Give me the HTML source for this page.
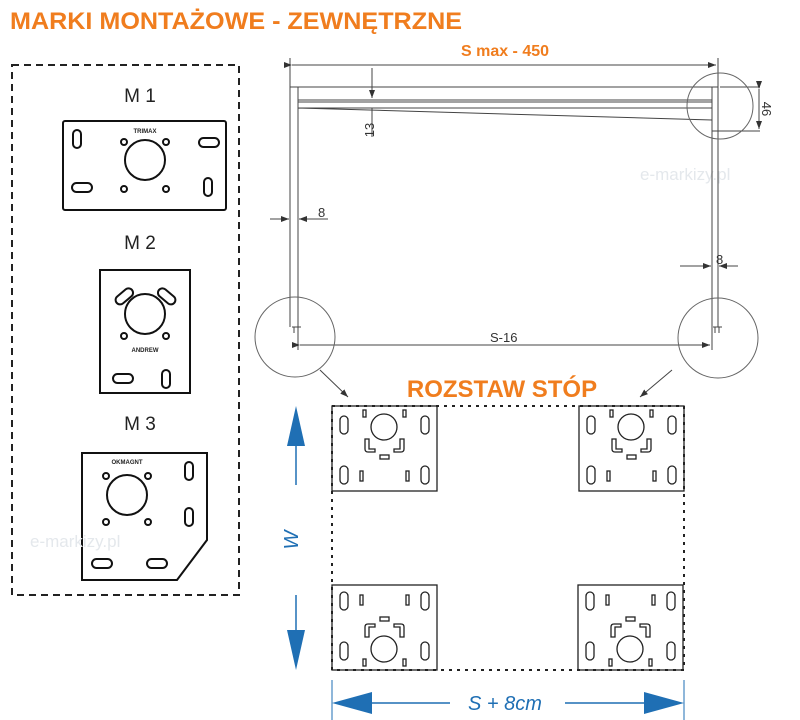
<!DOCTYPE html>
<html><head><meta charset="utf-8"><style>
body{margin:0;background:#fff;width:800px;height:720px;overflow:hidden}
svg{display:block}
</style></head><body>
<svg width="800" height="720" viewBox="0 0 800 720" xmlns="http://www.w3.org/2000/svg" font-family="Liberation Sans, sans-serif">
<defs>
<marker id="a" markerWidth="8" markerHeight="6" refX="8" refY="3" orient="auto"><path d="M0,0 L8,3 L0,6z" fill="#333"/></marker>
<g id="plate" fill="none" stroke="#222" stroke-width="1.3">
<rect x="0" y="0" width="105" height="85"/>
<rect x="8" y="10" width="8" height="18" rx="4"/><rect x="89" y="10" width="8" height="18" rx="4"/>
<rect x="8" y="60" width="8" height="18" rx="4"/><rect x="89" y="60" width="8" height="18" rx="4"/>
<rect x="31" y="4" width="3" height="7"/><rect x="71" y="4" width="3" height="7"/>
<rect x="28" y="65" width="3" height="10"/><rect x="74" y="65" width="3" height="10"/>
<circle cx="52" cy="21" r="13"/>
<path d="M33,33 v10 q0,3 3,3 h7 v-3 h-6 v-10z M72,33 v10 q0,3 -3,3 h-7 v-3 h6 v-10z"/>
<rect x="48" y="49" width="9" height="4"/>
</g>
</defs>
<text x="10" y="29" font-size="24" font-weight="bold" fill="#f07d1e" textLength="452" lengthAdjust="spacingAndGlyphs">MARKI MONTAŻOWE  - ZEWNĘTRZNE</text>
<rect x="12" y="65" width="227" height="530" fill="none" stroke="#222" stroke-width="2" stroke-dasharray="7,5"/>
<g font-size="19" fill="#222" text-anchor="middle"><text x="140" y="102">M 1</text><text x="140" y="249">M 2</text><text x="140" y="430">M 3</text></g>
<g fill="none" stroke="#111" stroke-width="2">
<rect x="63" y="121" width="163" height="89" rx="2"/>
<rect x="73" y="130" width="8" height="18" rx="4"/><rect x="199" y="138" width="20" height="9" rx="4.5"/>
<rect x="72" y="183" width="20" height="9" rx="4.5"/><rect x="204" y="178" width="8" height="18" rx="4"/>
<circle cx="145" cy="160" r="20"/><circle cx="124" cy="142" r="3"/><circle cx="166" cy="142" r="3"/><circle cx="124" cy="189" r="3"/><circle cx="166" cy="189" r="3"/>
<rect x="100" y="270" width="90" height="123"/>
<circle cx="145" cy="314" r="20"/>
<rect x="114" y="292" width="20" height="9" rx="4.5" transform="rotate(-40 124 296)"/>
<rect x="157" y="292" width="20" height="9" rx="4.5" transform="rotate(40 167 296)"/>
<circle cx="124" cy="336" r="3"/><circle cx="166" cy="336" r="3"/>
<rect x="113" y="374" width="20" height="9" rx="4.5"/><rect x="162" y="370" width="8" height="18" rx="4"/>
<path d="M82,453 H207 V540 L177,580 H82 Z"/>
<circle cx="127" cy="495" r="20"/><circle cx="106" cy="476" r="3"/><circle cx="148" cy="476" r="3"/><circle cx="106" cy="522" r="3"/><circle cx="148" cy="522" r="3"/>
<rect x="185" y="462" width="8" height="18" rx="4"/><rect x="185" y="508" width="8" height="18" rx="4"/>
<rect x="92" y="559" width="20" height="9" rx="4.5"/><rect x="147" y="559" width="20" height="9" rx="4.5"/>
</g>
<g font-size="6" font-weight="bold" fill="#222" text-anchor="middle"><text x="145" y="133">TRIMAX</text><text x="145" y="352">ANDREW</text><text x="127" y="464">OKMAGNT</text></g>
<g font-size="17" fill="#e4e8ec"><text x="30" y="547">e-markizy.pl</text><text x="640" y="180">e-markizy.pl</text></g>
<g fill="none" stroke="#444" stroke-width="1">
<line x1="290" y1="58" x2="290" y2="87"/><line x1="718" y1="58" x2="718" y2="87"/>
<line x1="292" y1="65" x2="716" y2="65" marker-start="url(#a)" marker-end="url(#a)"/>
<path d="M290,87 H718 M290,87 V327 M298,87 V327 M712,87 V327 M718,87 V327 M298,100 H712 M298,102 H712 M298,108 H712 M298,108 L712,120"/>
<line x1="372" y1="68" x2="372" y2="98" marker-end="url(#a)"/><line x1="372" y1="108" x2="372" y2="137"/>
<line x1="720" y1="87" x2="760" y2="87"/><line x1="712" y1="131" x2="760" y2="131"/><line x1="759" y1="89" x2="759" y2="129" marker-start="url(#a)" marker-end="url(#a)"/>
<line x1="270" y1="219" x2="289" y2="219" marker-end="url(#a)"/><line x1="328" y1="219" x2="299" y2="219" marker-end="url(#a)"/>
<line x1="680" y1="266" x2="711" y2="266" marker-end="url(#a)"/><line x1="738" y1="266" x2="719" y2="266" marker-end="url(#a)"/>
<line x1="298" y1="327" x2="298" y2="350"/><line x1="712" y1="327" x2="712" y2="350"/>
<line x1="300" y1="345" x2="710" y2="345" marker-start="url(#a)" marker-end="url(#a)"/>
<path d="M292,327 h9 M294,327 v6 M298,327 v6 M713,327 h9 M715,327 v6 M719,327 v6"/>
<circle cx="720" cy="106" r="33" stroke="#666"/><circle cx="295" cy="337" r="40" stroke="#666"/><circle cx="718" cy="338" r="40" stroke="#666"/>
<line x1="320" y1="370" x2="348" y2="397" marker-end="url(#a)"/><line x1="672" y1="370" x2="640" y2="397" marker-end="url(#a)"/>
</g>
<g font-size="13" fill="#333"><text x="368" y="136" transform="rotate(-90 368 130)" text-anchor="middle">13</text><text x="762" y="109" transform="rotate(90 762 109)" text-anchor="middle">46</text>
<text x="318" y="217">8</text><text x="716" y="264">8</text><text x="490" y="342">S-16</text></g>
<text x="505" y="56" font-size="16" font-weight="bold" fill="#f07d1e" text-anchor="middle">S max - 450</text>
<text x="502" y="397" font-size="24" font-weight="bold" fill="#f07d1e" text-anchor="middle">ROZSTAW STÓP</text>
<rect x="332" y="406" width="352" height="264" fill="none" stroke="#222" stroke-width="2" stroke-dasharray="3,5"/>
<use href="#plate" x="332" y="406"/><use href="#plate" x="579" y="406"/>
<use href="#plate" transform="translate(332,670) scale(1,-1)"/><use href="#plate" transform="translate(578,670) scale(1,-1)"/>
<g stroke="#1f6fb4" fill="#1f6fb4">
<line x1="296" y1="420" x2="296" y2="485" stroke-width="1.5"/><path d="M287,446 L296,406 L305,446Z" stroke="none"/>
<line x1="296" y1="595" x2="296" y2="660" stroke-width="1.5"/><path d="M287,630 L296,670 L305,630Z" stroke="none"/>
<line x1="332" y1="680" x2="332" y2="720" stroke-width="1"/><line x1="684" y1="680" x2="684" y2="720" stroke-width="1"/>
<line x1="350" y1="703" x2="450" y2="703" stroke-width="1.5"/><line x1="565" y1="703" x2="670" y2="703" stroke-width="1.5"/>
<path d="M332,703 L372,692 L372,714Z M684,703 L644,692 L644,714Z" stroke="none"/>
</g>
<text x="505" y="710" font-size="20" font-style="italic" fill="#1f6fb4" text-anchor="middle">S + 8cm</text>
<text x="302" y="540" font-size="20" font-style="italic" fill="#1f6fb4" text-anchor="middle" transform="rotate(-90 302 540)" dy="-4">W</text>
</svg>
</body></html>
